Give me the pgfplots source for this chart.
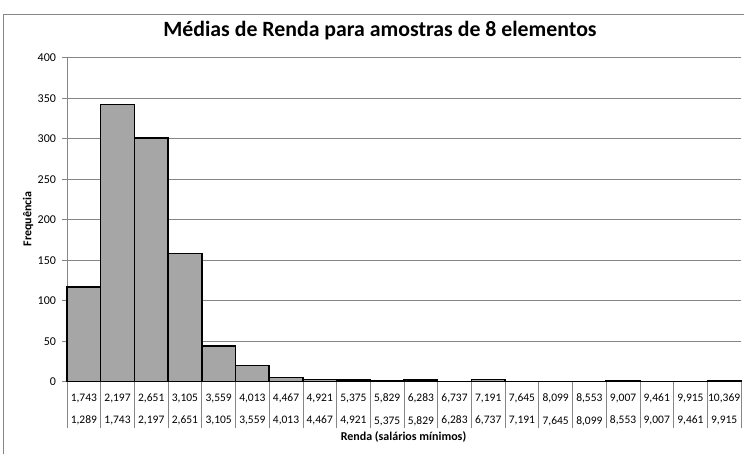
\documentclass[border=0pt]{standalone}
\usepackage{pgfplots}
\pgfplotsset{compat=1.18}
\usepackage{fontspec}
\setmainfont{Carlito}

\definecolor{gridgray}{HTML}{868686}
\definecolor{barfill}{HTML}{A6A6A6}

% Frequency per income class (class boundaries in salários mínimos)
\pgfplotstableread{
x  freq
0  117
1  342
2  301
3  158
4  44
5  20
6  5
7  3
8  2
9  1
10 2
11 0
12 3
13 0
14 0
15 0
16 1
17 0
18 0
19 1
20 1
}\freqtable

\begin{document}
\begin{tikzpicture}[x=1pt,y=1pt]
\path[use as bounding box] (0,0) rectangle (744,454);
% chart frame
\draw[gridgray, line width=0.8pt] (3,-20) -- (3,440) -- (760,440);

\begin{axis}[
  at={(67pt,72.3pt)}, anchor=south west,
  scale only axis,
  width=674pt, height=324pt,
  xmin=0, xmax=20,
  ymin=0, ymax=400,
  ytick={0,50,...,400},
  ymajorgrids,
  grid style={gridgray, line width=0.7pt},
  axis x line*=bottom,
  axis y line*=left,
  axis line style={gridgray, line width=0.7pt},
  every tick/.style={gridgray, line width=0.7pt},
  y tick label style={font=\fontsize{12}{14}\selectfont, xshift=-3pt},
  major tick length=4.5pt,
  minor tick length=46pt,
  tick align=outside,
  xtick={0.5,1.5,...,19.5},
  major x tick style={draw=none},
  minor xtick={0,...,20},
  xticklabels={
    {1,743\\[8.5pt]1,289},{2,197\\[8.5pt]1,743},{2,651\\[8.5pt]2,197},{3,105\\[8.5pt]2,651},
    {3,559\\[8.5pt]3,105},{4,013\\[8.5pt]3,559},{4,467\\[8.5pt]4,013},{4,921\\[8.5pt]4,467},
    {5,375\\[8.5pt]4,921},{5,829\\[8.5pt]5,375},{6,283\\[8.5pt]5,829},{6,737\\[8.5pt]6,283},
    {7,191\\[8.5pt]6,737},{7,645\\[8.5pt]7,191},{8,099\\[8.5pt]7,645},{8,553\\[8.5pt]8,099},
    {9,007\\[8.5pt]8,553},{9,461\\[8.5pt]9,007},{9,915\\[8.5pt]9,461},{10,369\\[8.5pt]9,915}},
  x tick label style={font=\fontsize{11.5}{14}\selectfont, align=center,
    anchor=north, yshift=-4pt},
  /pgf/number format/assume math mode=true,
  clip=false,
]
\addplot[ybar interval, fill=barfill, draw=black, line width=1.5pt]
  table[x=x, y=freq] {\freqtable};
\end{axis}

\node[font=\bfseries\fontsize{21.8}{25}\selectfont] at (380,423) {Médias de Renda para amostras de 8 elementos};
\node[font=\bfseries\fontsize{12}{14}\selectfont, rotate=90] at (28,235) {Frequência};
\node[font=\bfseries\fontsize{12}{14}\selectfont] at (403.5,17) {Renda (salários mínimos)};
\end{tikzpicture}
\end{document}
